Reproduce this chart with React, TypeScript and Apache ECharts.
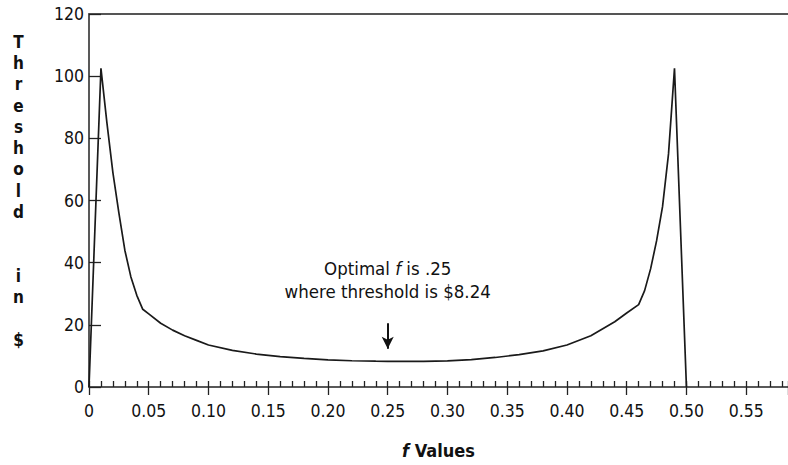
import React, { useEffect, useRef } from "react";
import * as echarts from "echarts";

const fValues = [
  0, 0.01, 0.015, 0.02, 0.025, 0.03, 0.035, 0.04, 0.045, 0.05, 0.06, 0.07, 0.08, 0.09, 0.1,
  0.12, 0.14, 0.16, 0.18, 0.2, 0.22, 0.24, 0.25, 0.26, 0.28, 0.3, 0.32, 0.34, 0.36, 0.38,
  0.4, 0.42, 0.44, 0.45, 0.46, 0.465, 0.47, 0.475, 0.48, 0.485, 0.49, 0.5,
];
const thresholds = [
  0, 102.5, 85, 69, 56, 44, 35.5, 29.5, 25, 23.5, 20.5, 18.3, 16.5, 15, 13.5,
  11.8, 10.6, 9.8, 9.2, 8.7, 8.45, 8.3, 8.24, 8.22, 8.25, 8.4, 8.8, 9.5, 10.4, 11.6,
  13.5, 16.5, 21, 23.8, 26.5, 31, 38, 47, 58, 75, 102.5, 0,
];
const yTitleLetters = ["T", "h", "r", "e", "s", "h", "o", "l", "d", "", "", "i", "n", "", "$"];
const annotationF = 0.25;
const arrowFrom = 20.5;
const arrowTo = 12.3;

const FONT = "'DejaVu Sans Condensed', 'DejaVu Sans', sans-serif";

export default function App() {
  const ref = useRef<HTMLDivElement>(null);
  useEffect(() => {
    if (!ref.current) return;
    const chart = echarts.init(ref.current, null, { renderer: "svg" });
    const data = fValues.map((f, i) => [f, thresholds[i]]);
    chart.setOption({
      animation: false,
      backgroundColor: "#ffffff",
      grid: { left: 89, right: 0, top: 14, bottom: 78 },
      graphic: [
        {
          type: "text",
          left: 13,
          top: 31,
          style: {
            text: yTitleLetters.join("\n"),
            font: `bold 17px ${FONT}`,
            lineHeight: 21.3,
            textAlign: "center",
            fill: "#111",
          },
        },
      ],
      xAxis: [
        {
          type: "value",
          min: 0,
          max: 0.585,
          interval: 0.05,
          position: "bottom",
          splitLine: { show: false },
          axisLine: { show: true, onZero: false, lineStyle: { color: "#222", width: 1.5 } },
          axisTick: { show: true, inside: true, length: 6, lineStyle: { color: "#222", width: 1.3 } },
          minorTick: { show: true, splitNumber: 5, length: 6, lineStyle: { color: "#222", width: 1.3 } },
          axisLabel: {
            color: "#111",
            fontFamily: FONT,
            fontSize: 17.5,
            margin: 15,
            showMaxLabel: false,
            formatter: (v: number) => (v === 0 ? "0" : v.toFixed(2)),
          },
          name: "{i|f}{b| Values}",
          nameLocation: "middle",
          nameGap: 54,
          nameTextStyle: {
            rich: {
              i: { fontFamily: FONT, fontSize: 18, fontWeight: "bold", fontStyle: "italic", color: "#111" },
              b: { fontFamily: FONT, fontSize: 18, fontWeight: "bold", color: "#111" },
            },
          },
        },
        {
          type: "value",
          min: 0,
          max: 0.585,
          interval: 0.05,
          position: "bottom",
          splitLine: { show: false },
          axisLine: { show: false },
          axisTick: { show: true, inside: false, length: 8, lineStyle: { color: "#222", width: 1.3 } },
          axisLabel: { show: false },
        },
        {
          type: "value",
          min: 0,
          max: 0.585,
          position: "top",
          splitLine: { show: false },
          axisLine: { show: true, lineStyle: { color: "#555", width: 2 } },
          axisTick: { show: false },
          axisLabel: { show: false },
        },
      ],
      yAxis: {
        type: "value",
        min: 0,
        max: 120,
        interval: 20,
        splitLine: { show: false },
        axisLine: { show: true, lineStyle: { color: "#222", width: 1.5 } },
        axisTick: { show: true, inside: true, length: 12, lineStyle: { color: "#222", width: 1.3 } },
        axisLabel: { color: "#111", fontFamily: FONT, fontSize: 17.5, margin: 5 },
      },
      series: [
        {
          type: "line",
          data,
          showSymbol: false,
          symbol: "none",
          lineStyle: { color: "#1a1a1a", width: 1.7 },
          markLine: {
            silent: true,
            symbol: ["none", "arrow"],
            symbolSize: [9, 12],
            label: { show: false },
            lineStyle: { color: "#111", width: 2, type: "solid" },
            data: [[{ coord: [annotationF, arrowFrom] }, { coord: [annotationF, arrowTo] }]],
          },
          markPoint: {
            silent: true,
            symbol: "circle",
            symbolSize: 0,
            data: [{ coord: [annotationF, arrowFrom] }],
            label: {
              show: true,
              position: "top",
              distance: 20,
              align: "center",
              formatter: "{a|Optimal }{i|f}{a| is .25}\n{a|where threshold is $8.24}",
              rich: {
                a: { fontFamily: FONT, fontSize: 18.5, color: "#111", lineHeight: 23 },
                i: { fontFamily: FONT, fontSize: 18.5, fontStyle: "italic", color: "#111", lineHeight: 23 },
              },
            },
          },
        },
      ],
    });
    return () => chart.dispose();
  }, []);
  return <div ref={ref} style={{ position: "fixed", left: 0, top: 0, width: 788, height: 465 }} />;
}
